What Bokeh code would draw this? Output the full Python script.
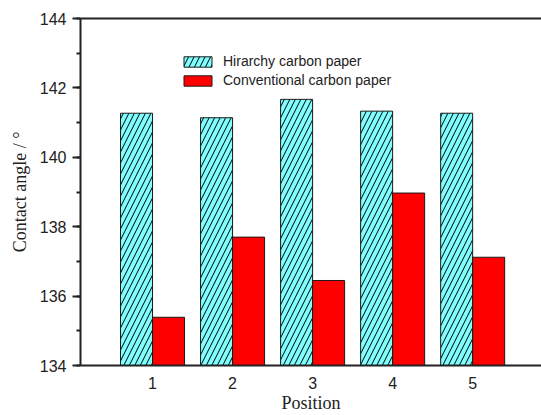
from bokeh.plotting import figure
from bokeh.models import (Range1d, FixedTicker, SingleIntervalTicker, LinearAxis,
                          Legend, LegendItem, ColumnDataSource)
from bokeh.embed import file_html
from bokeh.resources import INLINE

positions = [1, 2, 3, 4, 5]
tick_labels = ["1", "2", "3", "4", "5"]
hierarchy = [141.27, 141.14, 141.67, 141.33, 141.27]
conventional = [135.39, 137.70, 136.45, 138.97, 137.12]
series_names = ["Hirarchy carbon paper", "Conventional carbon paper"]

src = ColumnDataSource(data=dict(
    x_h=[p - 0.2 for p in positions],
    x_c=[p + 0.2 for p in positions],
    h=hierarchy, c=conventional,
))

p = figure(width=541, height=415, output_backend="svg", toolbar_location=None,
           x_range=Range1d(0.1, 5.86), y_range=Range1d(134, 144),
           min_border_left=80, min_border_right=0, min_border_top=18,
           min_border_bottom=50)
p.background_fill_color = "white"
p.border_fill_color = "white"
p.outline_line_color = None
p.grid.visible = False

r1 = p.vbar(x="x_h", top="h", bottom=134, width=0.4, source=src,
            fill_color="#80FFFF", line_color="#1a1a1a", line_width=1,
            hatch_pattern="/", hatch_color="#000000", hatch_scale=11,
            hatch_weight=1)
r2 = p.vbar(x="x_c", top="c", bottom=134, width=0.4, source=src,
            fill_color="#FF0000", line_color="#1a1a1a", line_width=1)

# axes
xa = p.xaxis[0]
xa.ticker = FixedTicker(ticks=positions)
xa.major_label_overrides = {pos: lab for pos, lab in zip(positions, tick_labels)}
xa.major_tick_line_color = None
xa.minor_tick_line_color = None
xa.axis_line_width = 2
xa.axis_line_color = "#222222"
xa.major_label_text_font = "Liberation Sans"
xa.major_label_text_font_size = "16px"
xa.major_label_text_color = "#222222"
xa.major_label_standoff = 5
xa.axis_label = "Position"
xa.axis_label_text_font = "Liberation Serif"
xa.axis_label_text_font_size = "18px"
xa.axis_label_text_font_style = "normal"
xa.axis_label_text_color = "#222222"
xa.axis_label_standoff = 1

ya = p.yaxis[0]
ya.ticker = SingleIntervalTicker(interval=2, num_minor_ticks=2)
ya.axis_line_width = 2
ya.axis_line_color = "#222222"
ya.major_tick_line_width = 2
ya.major_tick_line_color = "#222222"
ya.major_tick_out = 8
ya.major_tick_in = 0
ya.minor_tick_line_width = 2
ya.minor_tick_line_color = "#222222"
ya.minor_tick_out = 4
ya.minor_tick_in = 0
ya.major_label_text_font = "Liberation Sans"
ya.major_label_text_font_size = "16px"
ya.major_label_text_color = "#222222"
ya.major_label_standoff = 6
ya.axis_label = "Contact angle / \u00b0"
ya.axis_label_text_font = "Liberation Serif"
ya.axis_label_text_font_size = "18px"
ya.axis_label_text_font_style = "normal"
ya.axis_label_text_color = "#222222"
ya.axis_label_standoff = 7

top_axis = LinearAxis(ticker=FixedTicker(ticks=[]), axis_line_width=2,
                      axis_line_color="#222222", major_tick_line_color=None,
                      minor_tick_line_color=None,
                      major_label_text_font_size="0px")
p.add_layout(top_axis, "above")

legend = Legend(items=[LegendItem(label=series_names[0], renderers=[r1]),
                       LegendItem(label=series_names[1], renderers=[r2])],
                location=(100, 277), glyph_width=35, glyph_height=13,
                label_text_font="Liberation Sans", label_text_font_size="14px",
                label_text_color="#222222", label_standoff=8,
                label_height=13, spacing=3, padding=0, margin=0,
                border_line_color=None, background_fill_alpha=0)
p.add_layout(legend, "center")

open("out.html", "w").write(file_html(p, INLINE))
